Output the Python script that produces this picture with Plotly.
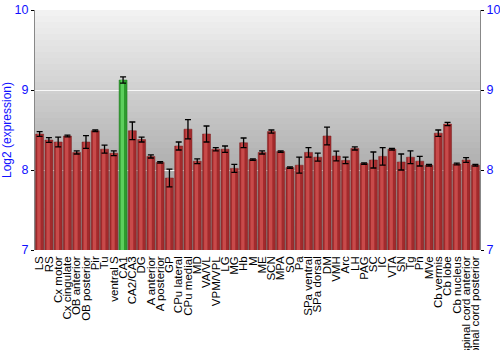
import plotly.graph_objects as go

categories = ["LS", "RS", "Cx motor", "Cx cingulate", "OB anterior", "OB posterior", "Pir", "Tu",
              "ventral S", "CA1", "CA2/CA3", "DG", "A anterior", "A posterior", "GP", "CPu lateral",
              "CPu medial", "MD", "VA/VL", "VPM/VPL", "LG", "MG", "Hb", "M", "ME", "SCN", "MPA", "SO",
              "Pa", "SPa ventral", "SPa dorsal", "DM", "VMH", "Arc", "LH", "PAG", "SC", "IC", "VTA",
              "SN", "Tg", "Pn", "MVe", "Cb vermis", "Cb lobe", "Cb nucleus", "spinal cord anterior",
              "spinal cord posterior"]
values = [8.45, 8.375, 8.35, 8.425, 8.22, 8.35, 8.49, 8.26,
          8.21, 9.125, 8.49, 8.38, 8.17, 8.095, 7.90, 8.30,
          8.51, 8.11, 8.45, 8.26, 8.26, 8.02, 8.34, 8.13, 8.22, 8.48, 8.23, 8.03,
          8.06, 8.22, 8.16, 8.425, 8.175, 8.12, 8.27, 8.08, 8.125, 8.17, 8.26,
          8.10, 8.16, 8.11, 8.06, 8.46, 8.575, 8.075, 8.125, 8.06]
errors = [0.03, 0.03, 0.06, 0.01, 0.02, 0.08, 0.01, 0.05,
          0.03, 0.04, 0.11, 0.03, 0.02, 0.01, 0.11, 0.05,
          0.12, 0.03, 0.10, 0.02, 0.04, 0.05, 0.06, 0.01, 0.02, 0.02, 0.01, 0.01,
          0.10, 0.06, 0.05, 0.11, 0.06, 0.04, 0.02, 0.01, 0.10, 0.11, 0.01,
          0.10, 0.08, 0.06, 0.01, 0.04, 0.02, 0.01, 0.03, 0.01]
highlight = "CA1"
y_ticks = [7, 8, 9, 10]

base_col = ["#2e9a2e" if c == highlight else "#a22a2c" for c in categories]
light_col = ["#5ccf5c" if c == highlight else "#c84a4a" for c in categories]
edge_col = ["#237a23" if c == highlight else "#7a1e1f" for c in categories]

fig = go.Figure()

# background vertical gradient
n = 40
for i in range(n):
    t = i / (n - 1)
    g = int(242 - (242 - 140) * t)
    fig.add_shape(type="rect", xref="paper", yref="paper", x0=0, x1=1,
                  y0=1 - (i + 1) / n, y1=1 - i / n,
                  fillcolor=f"rgb({g},{g},{g})", line_width=0, layer="below")

fig.add_trace(go.Bar(x=categories, y=values, marker=dict(color=base_col, line=dict(color=edge_col, width=0.5)),
                     width=0.86, showlegend=False, hoverinfo="skip"))
fig.add_trace(go.Bar(x=categories, y=values, marker=dict(color=light_col, line_width=0),
                     width=0.36, offset=-0.26, showlegend=False, hoverinfo="skip"))
fig.add_trace(go.Scatter(x=categories, y=values, mode="markers", marker=dict(size=0.1, opacity=0),
                         error_y=dict(type="data", array=errors, color="black", thickness=1.3, width=3),
                         showlegend=False, hoverinfo="skip"))
fig.add_trace(go.Scatter(x=[categories[0]], y=[7], yaxis="y2", mode="markers",
                         marker=dict(opacity=0), showlegend=False, hoverinfo="skip"))

axis_font = "Liberation Sans, Arial, sans-serif"
fig.update_layout(
    width=500, height=350,
    margin=dict(l=35, r=20, t=10, b=100, autoexpand=False),
    paper_bgcolor="white", plot_bgcolor="rgba(0,0,0,0)",
    barmode="overlay", bargap=0.12,
    font=dict(family=axis_font),
    xaxis=dict(tickangle=-90, tickmode="array", tickvals=categories, ticktext=categories,
               tickfont=dict(size=11.5, color="black", family=axis_font), showgrid=False,
               ticks="", ticklabelstandoff=3, showline=False,
               range=[-0.5, len(categories) - 0.5], automargin=False),
    yaxis=dict(range=[7, 10], tickvals=y_ticks, tickfont=dict(size=12.5, color="#1010ff", family=axis_font),
               ticks="outside", ticklen=3, tickcolor="black", showline=True, linecolor="#888888",
               linewidth=1, showgrid=True, gridcolor="rgba(255,255,255,0.85)", gridwidth=1,
               zeroline=False, automargin=False,
               title=dict(text="Log2 (expression)", font=dict(size=12, color="#1010ff", family=axis_font),
                          standoff=2)),
    yaxis2=dict(range=[7, 10], tickvals=y_ticks, overlaying="y", side="right", automargin=False,
                tickfont=dict(size=12.5, color="#1010ff", family=axis_font), ticks="outside", ticklen=3,
                ticklabelstandoff=0,
                tickcolor="black", showline=True, linecolor="#888888", linewidth=1,
                showgrid=False, zeroline=False),
)

fig.write_html("out.html")
